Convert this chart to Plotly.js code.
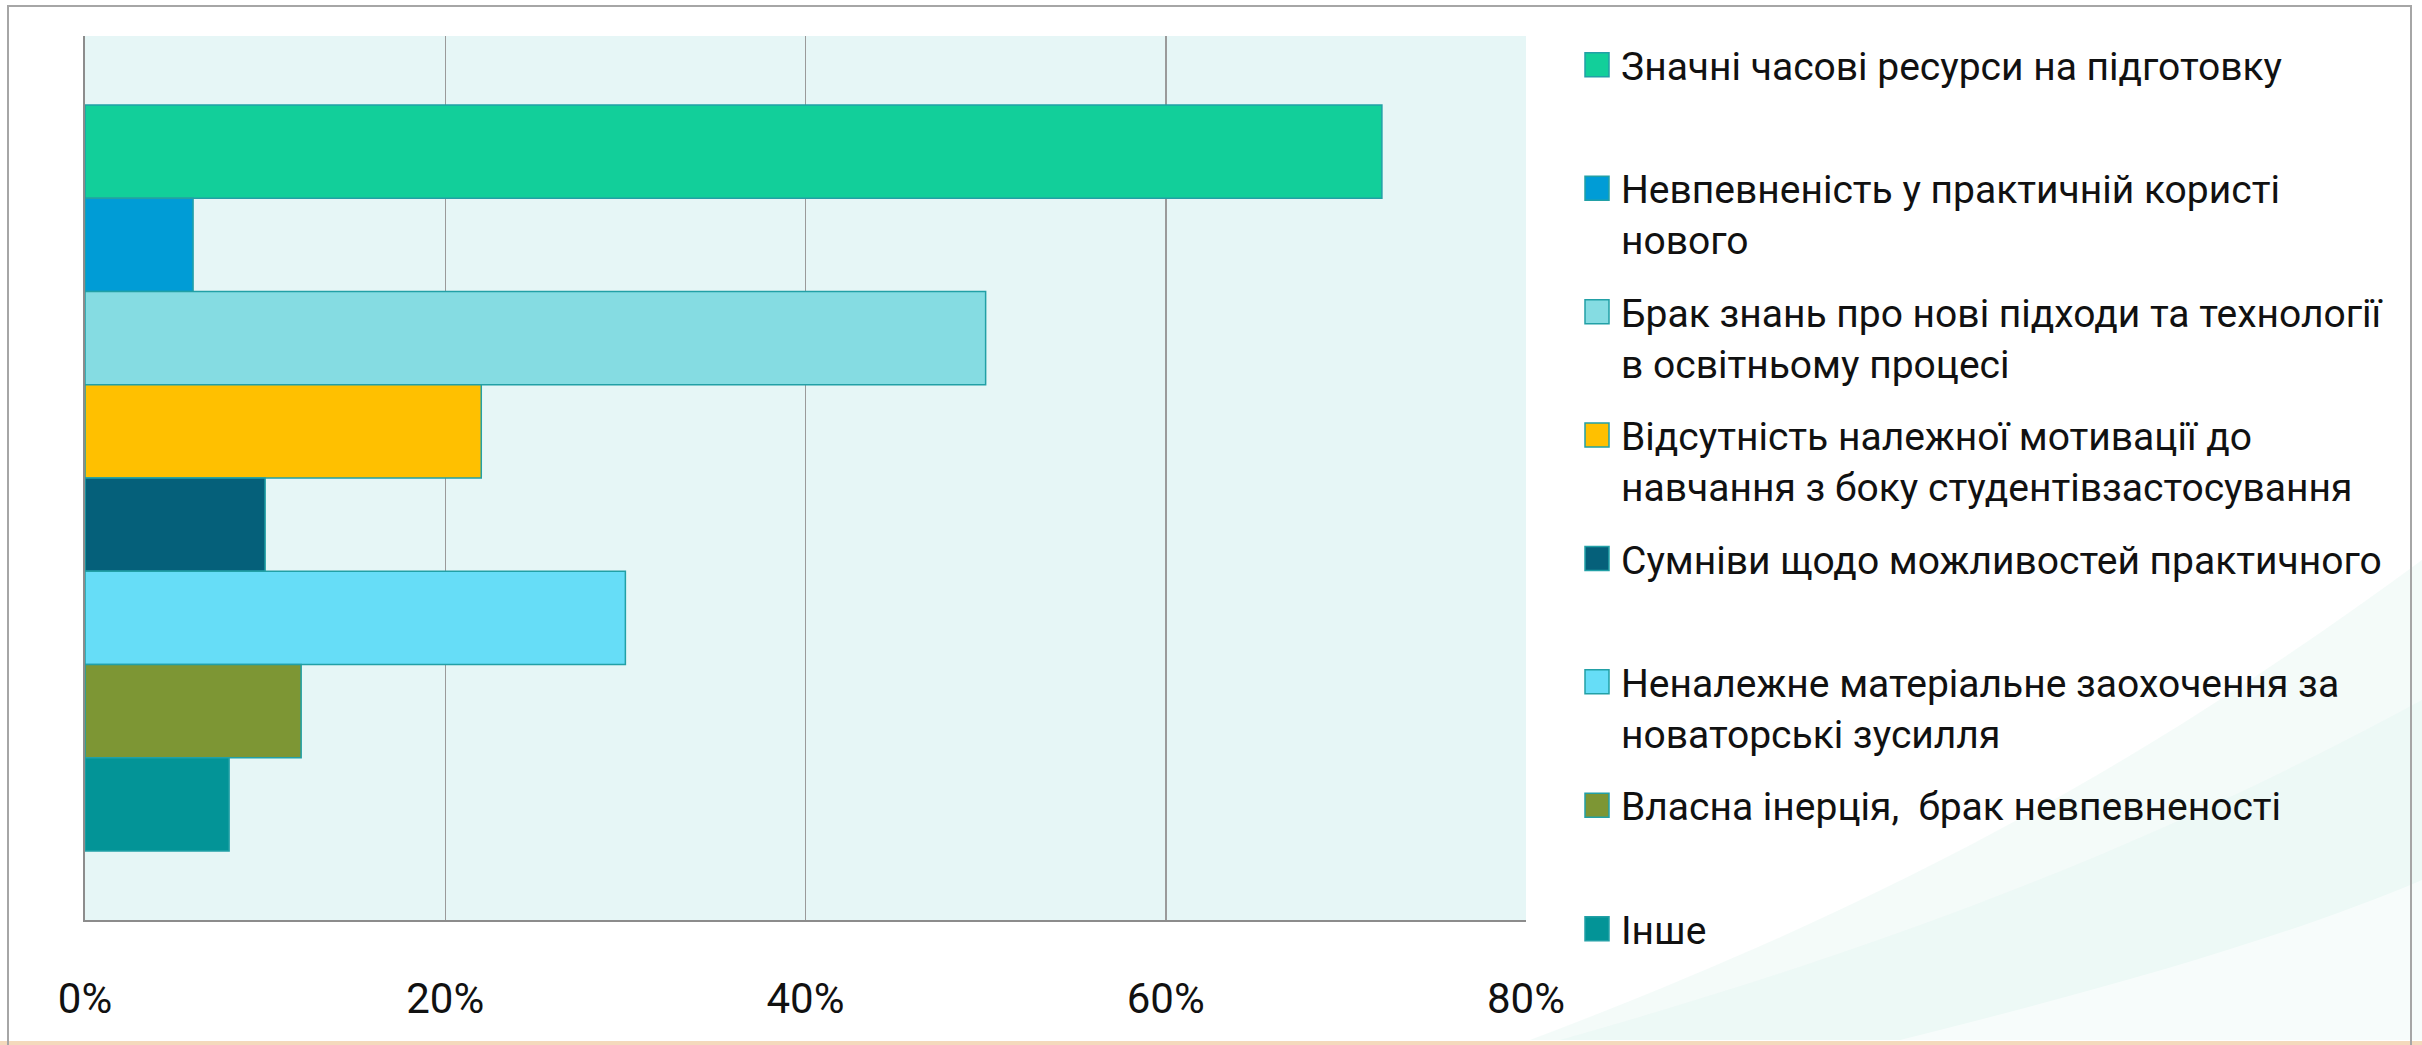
<!DOCTYPE html>
<html>
<head>
<meta charset="utf-8">
<script src="https://cdn.plot.ly/plotly-3.0.1.min.js"></script>
<style>
  html, body { margin: 0; padding: 0; background: #ffffff; }
  #chart { width: 2422px; height: 1045px; }
</style>
</head>
<body>
<div id="chart"></div>
<script>
// ---- data ----
const categories = [
  'Значні часові ресурси на підготовку',
  'Невпевненість у практичній користі нового',
  'Брак знань про нові підходи та технології в освітньому процесі',
  'Відсутність належної мотивації до навчання з боку студентівзастосування',
  'Сумніви щодо можливостей практичного',
  'Неналежне матеріальне заохочення за новаторські зусилля',
  'Власна інерція,  брак невпевненості',
  'Інше'
];
const legendLabels = [
  'Значні часові ресурси на підготовку<br>\u00A0',
  'Невпевненість у практичній користі<br>нового',
  'Брак знань про нові підходи та технології<br>в освітньому процесі',
  'Відсутність належної мотивації до<br>навчання з боку студентівзастосування',
  'Сумніви щодо можливостей практичного<br>\u00A0',
  'Неналежне матеріальне заохочення за<br>новаторські зусилля',
  'Власна інерція,\u00A0 брак невпевненості<br>\u00A0',
  'Інше<br>\u00A0'
];
const values = [72, 6, 50, 22, 10, 30, 12, 8];   // percent
const colors = ['#12CF9A', '#009CD6', '#85DCE2', '#FFC000', '#05607A', '#66DDF7', '#7D9634', '#039497'];
const groupLabel = ['Причини'];
const xTickVals = [0, 20, 40, 60, 80];
const xTickText = ['0%', '20%', '40%', '60%', '80%'];

// ---- layout geometry ----
const W = 2422, H = 1045;
const M = { l: 85, r: 896, t: 36, b: 125 };
const PW = W - M.l - M.r, PH = H - M.t - M.b;
const px = v => (v - M.l) / PW;
const py = v => (H - M.b - v) / PH;

const traces = categories.map((c, i) => ({
  type: 'bar',
  orientation: 'h',
  x: [values[i]],
  y: groupLabel,
  name: legendLabels[i],
  legendgroup: 'g' + i,
  hovertext: c,
  marker: { color: colors[i], line: { color: '#22A0A6', width: 1.5 } }
}));

function pathPx(pts) {
  return pts.map(p => {
    const cmd = p[0];
    const nums = [];
    for (let k = 1; k < p.length; k += 2) nums.push(px(p[k]).toFixed(5) + ',' + py(p[k + 1]).toFixed(5));
    return cmd + nums.join(' ');
  }).join(' ') + ' Z';
}

const shapes = [
  // faint slide swooshes (background decoration)
  { type: 'path', xref: 'paper', yref: 'paper', layer: 'below', line: { width: 0 },
    fillcolor: 'rgba(205,235,228,0.22)',
    path: pathPx([['M', 1530, 1040], ['C', 1900, 900, 2150, 760, 2422, 560], ['L', 2422, 1040]]) },
  { type: 'path', xref: 'paper', yref: 'paper', layer: 'below', line: { width: 0 },
    fillcolor: 'rgba(215,240,236,0.22)',
    path: pathPx([['M', 1560, 1040], ['C', 1950, 930, 2200, 820, 2422, 700], ['L', 2422, 1040]]) },
  { type: 'path', xref: 'paper', yref: 'paper', layer: 'below', line: { width: 0 },
    fillcolor: 'rgba(255,255,255,0.55)',
    path: pathPx([['M', 1900, 1040], ['C', 2100, 990, 2280, 940, 2422, 880], ['L', 2422, 1040]]) },
  // bottom orange strip
  { type: 'rect', xref: 'paper', yref: 'paper', layer: 'below', line: { width: 0 },
    fillcolor: '#F4D9BC', x0: px(0), x1: px(W), y0: py(1041), y1: py(1045) },
  // outer frame
  { type: 'rect', xref: 'paper', yref: 'paper', layer: 'below',
    line: { color: '#A6A6A6', width: 2 }, fillcolor: 'rgba(0,0,0,0)',
    x0: px(8), x1: px(2411), y0: py(1047), y1: py(6) }
];

const layout = {
  width: W, height: H,
  margin: M,
  paper_bgcolor: '#FFFFFF',
  plot_bgcolor: '#E6F6F6',
  barmode: 'group',
  bargap: 0.156,
  bargroupgap: 0,
  showlegend: true,
  font: { family: 'Roboto, "Noto Sans", sans-serif', color: '#111111' },
  xaxis: {
    range: [0, 80],
    tickvals: xTickVals,
    ticktext: xTickText,
    showgrid: true, gridcolor: '#9A9A9A', gridwidth: 1.5,
    zeroline: false,
    showline: true, linecolor: '#8C8C8C', linewidth: 2,
    ticks: '', ticklabelstandoff: 41,
    tickfont: { family: 'Roboto, sans-serif', size: 42, color: '#111111' },
    fixedrange: true
  },
  yaxis: {
    type: 'category',
    range: [0.5, -0.5],
    showticklabels: false,
    showgrid: false, zeroline: false,
    showline: true, linecolor: '#8C8C8C', linewidth: 2,
    ticks: '',
    fixedrange: true
  },
  legend: {
    xref: 'container', yref: 'container',
    x: 1581 / W, xanchor: 'left',
    y: 1 - 33 / H, yanchor: 'top',
    maxheight: 1040,
    traceorder: 'grouped',
    tracegroupgap: 19,
    valign: 'top',
    bgcolor: 'rgba(0,0,0,0)',
    borderwidth: 0,
    font: { family: 'Roboto, sans-serif', size: 39, color: '#111111' }
  },
  shapes: shapes
};

const gd = document.getElementById('chart');
function enlargeLegendSymbols() {
  gd.querySelectorAll('.legend .legendpoints path').forEach(p => {
    p.setAttribute('d', 'M8,12H-16V-12H8Z');
  });
}
Plotly.newPlot(gd, traces, layout, { displayModeBar: false, staticPlot: true }).then(() => {
  enlargeLegendSymbols();
  setTimeout(enlargeLegendSymbols, 0);
  setTimeout(enlargeLegendSymbols, 200);
  gd.on && gd.on('plotly_afterplot', () => setTimeout(enlargeLegendSymbols, 0));
});
</script>
</body>
</html>
